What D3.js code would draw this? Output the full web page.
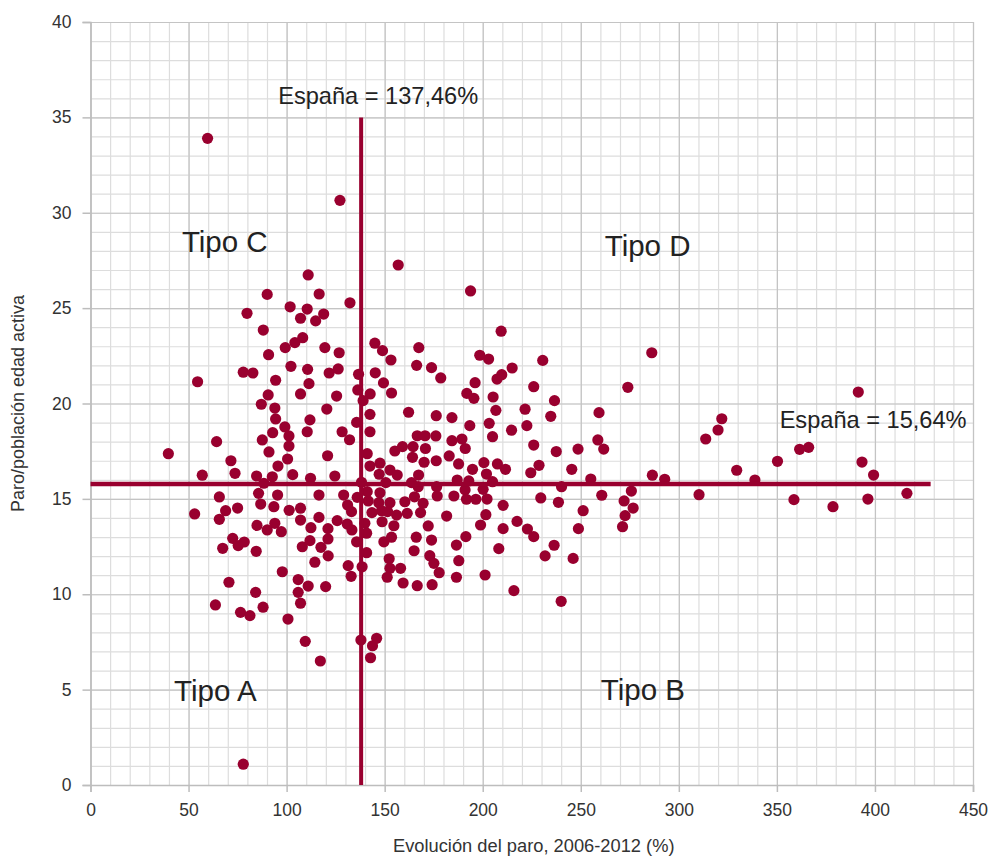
<!DOCTYPE html>
<html>
<head>
<meta charset="utf-8">
<script src="https://cdn.jsdelivr.net/npm/d3@7"></script>
<style>
  body { margin: 0; background: #fff; }
  svg { font-family: "Liberation Sans", Arial, Helvetica, sans-serif; }
</style>
</head>
<body>
<div id="chart"></div>
<script>
// Evolución del paro 2006-2012 (%) for each point
const evolucionParo = [
  59.7,127.2,90.1,101.8,79.8,88.1,107.1,104.2,99.3,90.8,
  102.2,77.9,82.8,54.6,94.4,90.6,107.1,87.1,94.0,94.4,
  99.1,92.9,101.2,87.6,64.3,101.2,91.0,39.7,71.6,100.5,
  95.6,57.0,73.7,84.7,92.7,103.1,88.4,85.7,95.4,65.7,
  86.8,93.5,75.0,68.9,101.3,107.1,53.1,65.7,107.1,84.9,
  94.0,90.1,97.3,72.5,78.4,75.3,67.4,84.5,108.0,97.8,
  105.9,70.6,84.2,105.9,63.7,76.5,81.3,88.0,107.1,100.7,
  111.0,109.5,117.2,114.4,119.9,77.9,
  111.0,156.9,193.8,116.6,110.5,132.3,114.8,118.9,108.2,119.5,
  126.8,145.0,148.9,153.2,167.4,166.3,173.9,178.6,198.5,203.0,
  110.7,121.7,126.3,136.7,145.2,111.4,149.4,125.5,136.3,142.6,
  153.5,139.0,120.5,162.2,176.3,184.3,196.1,191.9,195.5,193.4,
  111.9,110.5,128.3,132.1,135.7,142.5,142.5,166.6,170.6,176.1,
  184.3,189.4,159.1,164.5,170.8,155.2,191.1,
  120.9,141.1,164.2,170.1,176.3,182.9,187.7,194.8,142.5,147.6,
  147.2,152.7,156.4,167.3,112.2,124.6,138.2,150.6,163.7,167.1,
  176.5,187.0,192.9,116.5,129.1,136.0,141.1,141.6,147.6,147.0,
  152.7,160.3,165.2,169.6,176.8,185.3,191.0,191.7,196.5,131.1,
  133.1,112.4,116.5,125.8,121.1,121.1,111.9,117.5,130.9,133.3,
  139.9,140.8,143.5,148.4,151.5,156.1,161.5,148.7,154.7,153.5,
  149.6,135.7,140.8,168.3,172.2,166.1,173.9,165.0,181.6,191.4,
  186.6,187.8,186.6,121.2,152.3,152.7,151.3,158.1,173.0,175.1,
  177.8,159.4,166.6,174.2,131.4,132.9,138.5,137.9,143.8,145.9,
  142.8,
  209.4,230.6,215.0,207.3,209.7,286.2,274.0,226.0,205.3,236.6,
  206.7,221.6,234.7,259.3,203.3,205.0,214.7,222.5,226.0,237.5,
  248.6,258.7,261.7,200.6,201.9,207.5,211.6,205.0,224.5,228.7,
  245.4,255.1,286.5,240.2,202.2,200.2,210.4,229.6,238.6,260.7,
  275.8,272.1,276.7,272.6,271.3,251.2,248.8,201.6,198.9,210.4,
  217.5,222.8,226.0,208.2,236.4,231.8,246.1,201.2,215.9,240.0,
  292.8,310.3,313.7,320.0,321.9,329.5,338.8,350.3,358.7,361.6,
  366.2,378.6,391.5,393.4,399.3,396.4,416.3
];

// Paro / población en edad activa for each point
const paroPoblacion = [
  33.90,30.65,25.72,25.07,24.73,23.85,24.47,23.19,22.93,22.56,
  21.95,21.64,21.60,21.14,21.22,20.45,20.50,19.96,19.76,19.19,
  18.77,18.47,18.30,18.09,18.00,17.77,17.46,17.37,17.00,17.09,
  16.72,16.24,16.34,16.20,16.16,16.27,15.82,15.29,15.20,15.10,
  14.73,14.59,14.52,14.38,14.40,14.51,14.21,13.93,13.89,13.61,
  13.72,13.37,13.28,12.93,12.74,12.55,12.41,12.25,12.49,11.18,
  10.77,10.63,10.10,10.10,9.44,9.05,8.88,9.32,9.53,8.70,
  10.43,7.53,6.50,11.68,10.40,1.09,
  26.74,27.26,25.90,25.74,24.95,25.28,24.33,24.69,23.45,22.93,
  22.66,23.16,22.77,22.28,22.93,22.00,21.88,21.34,22.53,22.33,
  21.79,21.60,21.81,21.53,21.61,21.04,21.08,20.39,20.71,20.50,
  20.55,20.15,19.71,19.54,19.36,19.26,21.09,20.53,20.27,18.84,
  19.14,18.52,18.52,18.10,19.01,19.43,18.52,18.31,18.31,18.30,
  18.05,18.14,17.74,17.74,17.64,17.51,17.64,
  17.26,17.37,17.18,16.92,17.00,17.25,16.83,16.55,16.72,16.87,
  16.29,16.51,16.25,16.25,16.08,16.20,15.87,15.85,15.85,15.64,
  15.64,15.99,15.94,15.20,15.20,15.08,15.38,14.89,15.32,14.80,
  14.80,14.85,15.11,14.77,15.15,15.15,15.47,14.98,14.98,14.68,
  14.33,13.49,14.03,13.86,13.44,12.90,12.81,12.46,13.68,13.37,
  13.72,13.20,14.28,14.38,14.33,14.15,14.24,13.80,13.59,12.99,
  12.75,12.75,12.18,14.28,13.58,12.99,12.84,12.28,14.10,13.02,
  12.58,11.76,10.89,12.01,11.86,11.36,10.89,11.36,12.02,11.62,
  11.13,10.59,10.45,10.50,11.50,10.94,11.44,7.60,7.30,7.69,
  6.67,
  23.79,22.26,21.86,21.28,21.51,22.66,20.85,20.88,20.34,20.15,
  19.64,19.70,19.33,19.52,18.96,18.26,18.60,18.84,17.82,17.48,
  17.61,18.09,17.61,16.90,16.30,16.83,16.55,15.90,16.37,16.76,
  16.55,16.04,16.24,15.64,14.99,15.50,14.66,15.05,14.82,15.19,
  15.41,14.89,14.52,14.12,13.54,14.38,13.44,14.17,13.63,13.44,
  13.82,13.42,13.02,12.39,12.57,12.01,11.88,11.01,10.19,9.63,
  16.03,15.22,18.14,18.61,19.20,16.50,15.99,16.97,14.96,17.60,
  17.70,14.59,20.60,16.93,16.25,14.99,15.29
];

const xTicks = [0, 50, 100, 150, 200, 250, 300, 350, 400, 450];
const yTicks = [0, 5, 10, 15, 20, 25, 30, 35, 40];

// Spain reference lines
const spainEvolucion = 138;     // vertical line, España = 137,46%
const spainParo = 15.78;        // horizontal line, España = 15,64%
const refLabels = ["España = 137,46%", "España = 15,64%"];
const refLabelPos = [[95.7, 35.7], [351.4, 18.73]];

const tipoLabels = ["Tipo A", "Tipo B", "Tipo C", "Tipo D"];
const tipoPos = [[42.6, 4.4], [260.2, 4.45], [46.6, 27.95], [262.2, 27.75]];

const xTitle = "Evolución del paro, 2006-2012 (%)";
const yTitle = "Paro/población edad activa";

const W = 992, H = 856;
const margin = { top: 22, right: 19, bottom: 71, left: 90.5 };
const width = W - margin.left - margin.right,
      height = H - margin.top - margin.bottom;

const data = evolucionParo.map((d, i) => ({ x: d, y: paroPoblacion[i] }));

const x = d3.scaleLinear().domain([0, 450]).range([0, width]);
const y = d3.scaleLinear().domain([0, 40]).range([height, 0]);

const svg = d3.select('#chart').append('svg')
    .attr('width', W)
    .attr('height', H);

const g = svg.append('g')
    .attr('transform', `translate(${margin.left},${margin.top})`);

// minor grid
g.append('g')
    .call(d3.axisBottom(x).tickValues(d3.range(0, 451, 10)).tickSize(height).tickFormat(''))
    .call(s => s.select('.domain').remove())
    .selectAll('line').attr('stroke', '#dddddd').attr('stroke-width', 1.2);

g.append('g')
    .call(d3.axisLeft(y).tickValues(d3.range(0, 41, 1)).tickSize(-width).tickFormat(''))
    .call(s => s.select('.domain').remove())
    .selectAll('line').attr('stroke', '#dddddd').attr('stroke-width', 1.2);

// major grid
g.append('g')
    .call(d3.axisBottom(x).tickValues(xTicks).tickSize(height).tickFormat(''))
    .call(s => s.select('.domain').remove())
    .selectAll('line').attr('stroke', '#c4c4c4').attr('stroke-width', 1.2);

g.append('g')
    .call(d3.axisLeft(y).tickValues(yTicks).tickSize(-width).tickFormat(''))
    .call(s => s.select('.domain').remove())
    .selectAll('line').attr('stroke', '#c4c4c4').attr('stroke-width', 1.2);

// X axis
const xAxis = g.append('g')
    .attr('transform', `translate(0,${height})`)
    .call(d3.axisBottom(x).tickValues(xTicks).tickSize(7).tickPadding(12));
xAxis.select('.domain').attr('stroke', '#bdbdbd').attr('stroke-width', 1.5);
xAxis.selectAll('line').attr('stroke', '#bdbdbd').attr('stroke-width', 1.5);
xAxis.selectAll('text').attr('fill', '#333').style('font-size', '17.5px');

// Y axis
const yAxis = g.append('g')
    .call(d3.axisLeft(y).tickValues(yTicks).tickSize(8).tickPadding(11));
yAxis.select('.domain').attr('stroke', '#bdbdbd').attr('stroke-width', 1.5);
yAxis.selectAll('line').attr('stroke', '#bdbdbd').attr('stroke-width', 1.5);
yAxis.selectAll('text').attr('fill', '#333').style('font-size', '17.5px');

// points
g.selectAll('.dot')
    .data(data)
    .enter().append('circle')
      .attr('class', 'dot')
      .attr('cx', d => x(d.x))
      .attr('cy', d => y(d.y))
      .attr('r', 5.6)
      .style('fill', '#99002f');

// reference lines
g.append('line')
    .attr('x1', x(spainEvolucion)).attr('x2', x(spainEvolucion))
    .attr('y1', y(0)).attr('y2', y(35))
    .attr('stroke', '#99002f').attr('stroke-width', 4);

g.append('line')
    .attr('x1', x(0)).attr('x2', x(428.4))
    .attr('y1', y(spainParo)).attr('y2', y(spainParo))
    .attr('stroke', '#99002f').attr('stroke-width', 4.5);

// labels
g.selectAll('.ref-label')
    .data(refLabels)
    .enter().append('text')
      .attr('x', (d, i) => x(refLabelPos[i][0]))
      .attr('y', (d, i) => y(refLabelPos[i][1]))
      .attr('fill', '#222')
      .style('font-size', '23.6px')
      .text(d => d);

g.selectAll('.tipo-label')
    .data(tipoLabels)
    .enter().append('text')
      .attr('x', (d, i) => x(tipoPos[i][0]))
      .attr('y', (d, i) => y(tipoPos[i][1]))
      .attr('fill', '#222')
      .style('font-size', '29.5px')
      .text(d => d);

// axis titles
svg.append('text')
    .attr('x', margin.left + width / 2 + 2)
    .attr('y', 852)
    .attr('text-anchor', 'middle')
    .attr('fill', '#333')
    .style('font-size', '18.3px')
    .text(xTitle);

svg.append('text')
    .attr('transform', `translate(24,${margin.top + height / 2}) rotate(-90)`)
    .attr('text-anchor', 'middle')
    .attr('fill', '#333')
    .style('font-size', '18px')
    .text(yTitle);
</script>
</body>
</html>
